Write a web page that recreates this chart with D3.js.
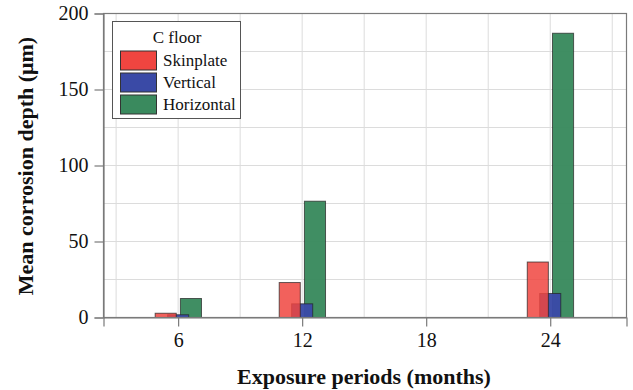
<!DOCTYPE html>
<html><head><meta charset="utf-8">
<script src="https://cdn.jsdelivr.net/npm/d3@7"></script>
<style>body{margin:0;background:#fff}svg{display:block}</style>
</head><body>
<svg id="c" width="633" height="390"></svg>
<script>
const periods = [6, 12, 24];
const seriesNames = ["Skinplate", "Vertical", "Horizontal"];
const skinplate = [2.8, 23, 36.5];
const vertical = [1.8, 9, 15.8];
const horizontal = [12.5, 76.5, 187];
const xTicks = [6, 12, 18, 24];
const yTicks = [0, 50, 100, 150, 200];
const colors = ["#f04540", "#3a4aa6", "#3a8a5e"];
const offsets = [-0.6, 0, 0.62];
const legendTitle = "C floor";
const FONT = "'Liberation Serif', Tinos, serif";

const svg = d3.select("#c");
const L = 103.5, R = 626.5, T = 13.5, B = 317.5;
const x = d3.scaleLinear().domain([2.39, 27.69]).range([L, R]);
const y = d3.scaleLinear().domain([0, 200]).range([B, T]);
const barW = x(1.02) - x(0);

// grid
const g = svg.append("g");
g.selectAll(".gx").data(d3.range(3, 28, 3)).join("line")
  .attr("x1", d => x(d)).attr("x2", d => x(d)).attr("y1", T).attr("y2", B)
  .attr("stroke", "#dcdcdc").attr("stroke-width", 1);
g.selectAll(".gy").data(d3.range(25, 200, 25)).join("line")
  .attr("x1", L).attr("x2", R).attr("y1", d => y(d)).attr("y2", d => y(d))
  .attr("stroke", "#dcdcdc").attr("stroke-width", 1);

// bars: draw order green, blue, red
const series = [skinplate, vertical, horizontal];
[2, 1, 0].forEach(si => {
  svg.append("g").selectAll("rect").data(periods.map((p, i) => ({p, v: series[si][i]}))).join("rect")
    .attr("x", d => x(d.p + offsets[si]) - barW / 2)
    .attr("width", barW)
    .attr("y", d => y(d.v))
    .attr("height", d => y(0) - y(d.v))
    .attr("fill", colors[si])
    .attr("fill-opacity", si === 0 ? 0.85 : 0.97)
    .attr("stroke", "#222").attr("stroke-opacity", 0.7).attr("stroke-width", 1);
});

// frame
svg.append("rect").attr("x", L).attr("y", T).attr("width", R - L).attr("height", B - T)
  .attr("fill", "none").attr("stroke", "#7a7a7a").attr("stroke-width", 1.2);

// axes
const xa = svg.append("g").attr("transform", `translate(0,${B})`)
  .call(d3.axisBottom(x).tickValues(xTicks).tickSize(9).tickPadding(6).tickFormat(d3.format("d")));
const ya = svg.append("g").attr("transform", `translate(${L},0)`)
  .call(d3.axisLeft(y).tickValues(yTicks).tickSize(9).tickPadding(6));
[xa, ya].forEach(a => {
  a.attr("font-family", null).attr("font-size", null);
  a.select(".domain").attr("stroke", "#7a7a7a").attr("stroke-width", 1.2);
  a.selectAll(".tick line").attr("stroke", "#7a7a7a").attr("stroke-width", 1.2);
  a.selectAll(".tick text").style("font-family", FONT).style("font-size", "20px").attr("fill", "#111");
});

svg.append("text").attr("x", 364).attr("y", 384).attr("text-anchor", "middle")
  .style("font-family", FONT).style("font-weight", "bold").style("font-size", "22px").attr("fill", "#111")
  .text("Exposure periods (months)");
svg.append("text").attr("transform", "translate(33,166) rotate(-90)").attr("text-anchor", "middle")
  .style("font-family", FONT).style("font-weight", "bold").style("font-size", "22px").attr("fill", "#111")
  .text("Mean corrosion depth (μm)");

// legend
const lg = svg.append("g");
lg.append("rect").attr("x", 112.5).attr("y", 21.5).attr("width", 128).attr("height", 97)
  .attr("fill", "#fff").attr("stroke", "#555").attr("stroke-width", 1);
lg.append("text").attr("x", 177).attr("y", 43).attr("text-anchor", "middle")
  .style("font-family", FONT).style("font-size", "17px").attr("fill", "#111").text(legendTitle);
seriesNames.forEach((n, i) => {
  const yy = 51 + i * 22;
  lg.append("rect").attr("x", 120.5).attr("y", yy).attr("width", 36).attr("height", 19)
    .attr("fill", colors[i]).attr("stroke", "#333").attr("stroke-width", 1);
  lg.append("text").attr("x", 163).attr("y", yy + 15)
    .style("font-family", FONT).style("font-size", "17px").attr("fill", "#111").text(n);
});
</script>
</body></html>
